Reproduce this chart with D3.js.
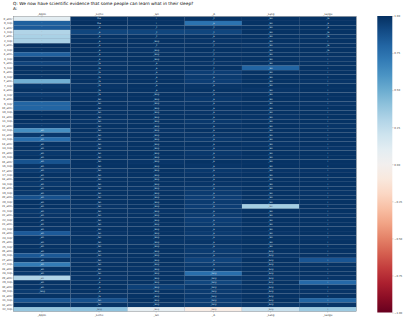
<!DOCTYPE html>
<html>
<head>
<meta charset="utf-8">
<script src="https://cdnjs.cloudflare.com/ajax/libs/d3/7.8.5/d3.min.js"></script>
<style>
  body { margin: 0; background: #fff; }
  text { font-family: "DejaVu Sans", sans-serif; }
</style>
</head>
<body>
<div id="chart"></div>
<script>
// question shown on top
var question = "Q: We now have scientific evidence that some people can learn what in their sleep?";
var answer = "A:";

// columns (tokens)
var columns = ["_Apple", "_Lerne", "_lan", "_A", "_Lang", "_Langu"];

// rows
var rowLabels = ["0_attn","0_mlp","1_attn","1_mlp","2_attn","2_mlp","3_attn","3_mlp","4_attn","4_mlp",
  "5_attn","5_mlp","6_attn","6_mlp","7_attn","7_mlp","8_attn","8_mlp","9_attn","9_mlp",
  "10_attn","10_mlp","11_attn","11_mlp","12_attn","12_mlp","13_attn","13_mlp","14_attn","14_mlp",
  "15_attn","15_mlp","16_attn","16_mlp","17_attn","17_mlp","18_attn","18_mlp","19_attn","19_mlp",
  "20_attn","20_mlp","21_attn","21_mlp","22_attn","22_mlp","23_attn","23_mlp","24_attn","24_mlp",
  "25_attn","25_mlp","26_attn","26_mlp","27_attn","27_mlp","28_attn","28_mlp","29_attn","29_mlp",
  "30_attn","30_mlp","31_attn","31_mlp","32_attn","32_mlp"];

// values per column, one per row
var col0 = [0.10,0.82,0.84,0.30,0.32,0.32,1.00,0.99,0.82,0.98,
  0.93,0.99,0.99,0.98,0.48,0.97,0.99,0.96,0.98,0.80,
  0.80,0.99,1.00,0.99,0.97,0.62,0.97,0.76,0.99,0.99,
  0.97,0.99,0.87,0.98,0.96,0.99,0.99,0.97,0.99,0.97,
  0.88,0.99,0.99,0.97,0.98,0.99,0.99,0.98,0.84,0.99,
  0.98,0.99,0.99,0.85,0.98,0.70,0.99,0.97,0.30,0.99,
  0.98,0.96,0.99,0.86,0.99,0.38];
var col1 = [0.99,1.00,0.99,0.92,0.99,0.99,1.00,0.99,0.99,0.99,
  0.98,0.99,0.99,0.99,0.99,0.98,0.99,0.99,0.99,0.99,
  0.99,0.99,0.99,0.98,0.99,0.99,0.99,0.99,0.98,0.99,
  0.99,0.99,0.99,0.99,0.98,0.99,0.99,0.99,0.99,0.99,
  0.99,0.99,0.98,0.99,0.99,0.99,0.99,0.99,0.98,0.99,
  0.99,0.99,0.99,0.99,0.98,0.99,0.99,0.99,0.98,0.99,
  0.99,0.99,0.98,0.88,0.99,0.40];
var col2 = [0.99,0.99,0.99,0.92,0.99,0.99,0.99,0.98,0.99,0.99,
  0.99,0.99,0.98,0.99,0.99,0.99,0.99,0.99,0.99,0.98,
  0.99,0.99,0.99,0.99,0.99,0.98,0.99,0.99,0.99,0.99,
  0.99,0.99,0.98,0.99,0.99,0.99,0.99,0.99,0.98,0.99,
  0.99,0.99,0.99,0.98,0.99,0.99,0.99,0.99,0.99,0.99,
  0.98,0.99,0.99,0.99,0.99,0.99,0.98,0.99,0.99,0.99,
  0.94,0.99,0.99,0.99,0.98,0.08];
var col3 = [0.99,0.74,0.98,0.92,0.99,0.98,0.99,0.99,0.98,0.99,
  0.98,0.99,0.95,0.96,0.95,0.98,0.99,0.98,0.97,0.98,
  0.99,0.98,0.99,0.97,0.98,0.99,0.98,0.97,0.99,0.98,
  0.97,0.98,0.99,0.98,0.97,0.98,0.99,0.98,0.97,0.96,
  0.95,0.96,0.95,0.97,0.96,0.95,0.96,0.97,0.96,0.97,
  0.98,0.97,0.96,0.97,0.93,0.96,0.97,0.76,0.97,0.92,
  0.97,0.96,0.97,0.95,0.96,-0.06];
var col4 = [0.99,0.99,0.99,0.99,0.99,0.99,0.98,0.99,0.99,0.99,
  0.99,0.80,0.99,0.99,0.99,0.99,0.98,0.99,0.99,0.99,
  0.99,0.99,0.98,0.99,0.99,0.99,0.99,0.99,0.98,0.99,
  0.99,0.99,0.99,0.99,0.98,0.99,0.99,0.99,0.99,0.99,
  0.99,0.98,0.34,0.99,0.99,0.99,0.99,0.99,0.98,0.99,
  0.99,0.99,0.99,0.98,0.99,0.99,0.99,0.99,0.98,0.99,
  0.99,0.99,0.99,0.99,0.98,0.22];
var col5 = [0.99,0.99,0.99,0.99,0.98,0.99,0.99,0.99,0.99,0.98,
  0.99,0.99,0.99,0.99,0.98,0.99,0.99,0.99,0.99,0.98,
  0.99,0.99,0.99,0.99,0.98,0.99,0.99,0.99,0.99,0.98,
  0.99,0.99,0.99,0.99,0.98,0.99,0.99,0.99,0.99,0.98,
  0.99,0.99,0.99,0.99,0.98,0.99,0.99,0.99,0.99,0.98,
  0.99,0.99,0.99,0.99,0.86,0.99,0.99,0.99,0.98,0.78,
  0.99,0.98,0.99,0.80,0.98,0.36];
var values = [col0, col1, col2, col3, col4, col5];

// small token text printed in each cell
var tok0 = "' ' ' ' ' ' ' ' ' ' ' ' ' ' ' ' ' ' ' ' ' ' ' ' ' _wh _wh _wh _wh _wh _wh _wh _wh _wh _wh _wh _wh _wh _wh _wh _wh _wh _wh _wh _wh _wh _wh _wh _wh _wh _wh _wh _wh _wh _wh _wh _wh _wh _wh _wh _wh _lang".split(" ");
var tok1 = "the the _a _a _a _a _a _a _a _a _la _la _la _la _la _la _la _la _lan _lan _lan _lan _lan _lan _lan _lan _lan _lan _lan _lan _lan _lan _lan _lan _lan _lan _lan _lan _lan _lan _lan _lan _lan _lan _lan _lan _lan _lan _lan _lan _lan _lan _lan _lan _lan _lan _lan _lan _a _a _a _a _la _lan _lan _lang".split(" ");
var tok2 = "i i _t _t _t _lang _t _lang _lang _lang _a _a _a _a _a _a _a _lang _lang _lang _lang _lang _lang _lang _lang _lang _lang _lang _lang _lang _lang _lang _lang _lang _lang _lang _lang _lang _lang _lang _lang _lang _lang _lang _lang _lang _lang _lang _lang _lang _lang _lang _lang _lang _lang _lang _lang _lang _lang _lang _lang _lang _lang _lang _lang _lang".split(" ");
var tok3 = "_t _a _t _t _a _a _t _t _t _t _t _t _t _a _a _a _a _a _a _a _a _a _a _a _a _a _a _a _a _a _a _a _a _a _a _a _a _a _a _a _a _a _a _a _a _a _a _a _a _a _a _a _a _a _a _a _a _lang _lang _lang _lang _lang _lang _lang _lang _lang".split(" ");
var tok4 = "_lan _lan _lan _lan _lan _lan _lan _lan _lan _lan _lan _lan _lan _lan _lan _lan _lan _lan _lan _lan _lan _lan _lan _lan _lan _lan _lan _lan _lan _lan _lan _lan _lan _lan _lan _lan _lan _lan _lan _lan _lan _lan _lan _lan _lan _lan _lan _lan _lan _lan _lan _lan _lang _lang _lang _lang _lang _lang _lang _lang _lang _lang _lang _lang _lang _lang".split(" ");
var tok5 = "_la _a _a _la _la i _la _la i i i i i i i i i i i i i i i i i i i i i i i i i i i i i i i i i i i i i i i i i i i i i i i i i i i i i i i i i i".split(" ");
var tokens = [tok0, tok1, tok2, tok3, tok4, tok5];

// colorbar ticks
var barTicks = [1, 0.75, 0.5, 0.25, 0, -0.25, -0.5, -0.75, -1];

var svg = d3.select("#chart").append("svg")
    .attr("width", 403)
    .attr("height", 320);

var x = d3.scaleBand().domain(columns).range([13.3, 356.3]);
var y = d3.scaleBand().domain(rowLabels).range([16.5, 311.5]);
var color = function(v){ return d3.interpolateRdBu((v + 1) / 2); };

// title
svg.append("text").attr("x", 13).attr("y", 5.2)
    .style("font-size", "4.3px").text(question);
svg.append("text").attr("x", 13).attr("y", 9.8)
    .style("font-size", "4.3px").text(answer);

// cells
var cells = [];
columns.forEach(function(c, ci){
    rowLabels.forEach(function(r, ri){
        cells.push({col: c, row: r, v: values[ci][ri], t: tokens[ci][ri]});
    });
});

svg.selectAll()
    .data(cells)
    .enter().append("rect")
    .attr("x", d => x(d.col))
    .attr("y", d => y(d.row))
    .attr("width", x.bandwidth())
    .attr("height", y.bandwidth())
    .style("fill", d => color(d.v))
    .style("stroke", "#3d5a80")
    .style("stroke-opacity", 0.6)
    .style("stroke-width", 0.15);

svg.selectAll()
    .data(cells)
    .enter().append("text")
    .attr("x", d => x(d.col) + x.bandwidth() / 2)
    .attr("y", d => y(d.row) + y.bandwidth() / 2 + 0.7)
    .attr("text-anchor", "middle")
    .style("font-size", "2.2px")
    .style("fill", d => d.v > 0.6 ? "#dfe8f3" : "#445")
    .text(d => d.t);

// outline
svg.append("rect")
    .attr("x", 13.3).attr("y", 16.5)
    .attr("width", 343).attr("height", 295)
    .style("fill", "none").style("stroke", "#888").style("stroke-width", 0.4);

// row labels
var yAxis = svg.append("g")
    .attr("transform", "translate(13.3,0)")
    .call(d3.axisLeft(y).tickSize(1));
yAxis.select(".domain").remove();
yAxis.selectAll("line").style("stroke", "#666").style("stroke-width", 0.3);
yAxis.selectAll("text").attr("x", -1.5).style("font-size", "2.6px").style("fill", "#333");

// column labels top and bottom
var xTop = svg.append("g")
    .attr("transform", "translate(0,16.5)")
    .call(d3.axisTop(x).tickSize(1));
xTop.select(".domain").remove();
xTop.selectAll("line").style("stroke", "#666").style("stroke-width", 0.3);
xTop.selectAll("text").attr("y", -1.8).style("font-size", "2.6px").style("fill", "#333");

var xBot = svg.append("g")
    .attr("transform", "translate(0,311.5)")
    .call(d3.axisBottom(x).tickSize(1));
xBot.select(".domain").remove();
xBot.selectAll("line").style("stroke", "#666").style("stroke-width", 0.3);
xBot.selectAll("text")
    .attr("y", 2.2)
    .attr("dy", "0.7em")
    .style("font-size", "2.6px").style("fill", "#333");

// colorbar
var c = d3.scaleLinear().domain([-1, 1]).range([312.5, 16]);
var grad = svg.append("defs").append("linearGradient")
    .attr("id", "cbar").attr("x1", 0).attr("y1", 1).attr("x2", 0).attr("y2", 0);
grad.selectAll("stop")
    .data(d3.range(-1, 1.0001, 0.1))
    .enter().append("stop")
    .attr("offset", d => (d + 1) / 2)
    .attr("stop-color", d => color(d));

svg.append("rect")
    .attr("x", 377.3).attr("y", 16)
    .attr("width", 15).attr("height", 296.5)
    .style("fill", "url(#cbar)");

var cAxis = svg.append("g")
    .attr("transform", "translate(392.3,0)")
    .call(d3.axisRight(c).tickValues(barTicks).tickFormat(d3.format(".2f")).tickSize(1.2));
cAxis.select(".domain").remove();
cAxis.selectAll("line").style("stroke", "#666").style("stroke-width", 0.3);
cAxis.selectAll("text").attr("x", 2).style("font-size", "2.6px").style("fill", "#444");
</script>
</body>
</html>
